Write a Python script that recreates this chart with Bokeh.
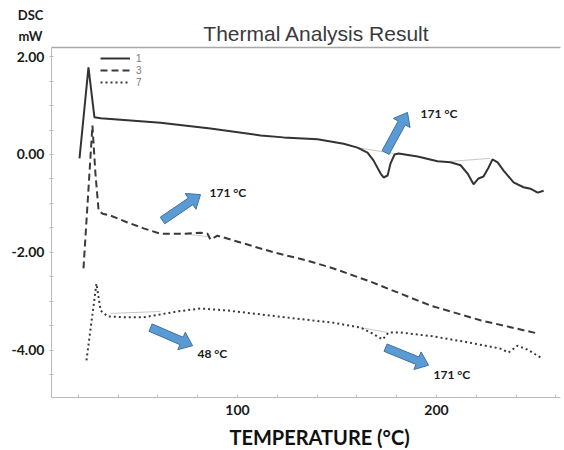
import math
from bokeh.plotting import figure
from bokeh.models import Range1d, LinearAxis, FixedTicker, Label, Legend
from bokeh.embed import file_html
from bokeh.resources import INLINE

# --- DSC curves (temperature in °C, heat flow in mW) ---
run1_t = [20.6, 25.1, 28.1, 31.2, 61.3, 86.4, 111.6, 123.1, 140.2, 153.3, 160.3,
          165.3, 168.3, 171.9, 173.4, 175.4, 176.9, 178.9, 180.9, 190.5, 200.5,
          207.0, 212.1, 215.6, 218.6, 221.1, 223.6, 226.1, 228.1, 230.7, 233.7,
          238.7, 243.7, 247.2, 250.8, 253.8]
run1_mw = [-0.08, 1.78, 0.76, 0.74, 0.65, 0.53, 0.39, 0.35, 0.31, 0.22, 0.14,
           0.04, -0.12, -0.39, -0.47, -0.43, -0.18, 0.0, 0.02, -0.04, -0.14,
           -0.16, -0.22, -0.39, -0.61, -0.49, -0.45, -0.27, -0.10, -0.16, -0.33,
           -0.57, -0.67, -0.70, -0.78, -0.74]

run3_t = [22.6, 27.1, 28.6, 30.2, 32.2, 36.2, 44.7, 52.8, 61.3, 72.9, 81.4, 84.9,
          86.4, 89.9, 101.5, 118.1, 135.2, 148.2, 166.8, 197.0, 222.1, 250.8]
run3_mw = [-2.33, 0.59, -0.39, -1.15, -1.21, -1.25, -1.39, -1.51, -1.62, -1.62,
           -1.60, -1.62, -1.74, -1.66, -1.80, -2.00, -2.17, -2.33, -2.60, -3.09,
           -3.39, -3.66]

run7_t = [24.1, 29.1, 31.2, 34.7, 44.7, 52.8, 61.3, 69.8, 81.4, 95.0, 111.6,
          128.1, 148.2, 161.8, 167.8, 172.9, 175.9, 181.9, 198.5, 215.6, 232.2,
          236.2, 240.7, 245.7, 252.3]
run7_mw = [-4.21, -2.64, -3.19, -3.31, -3.33, -3.33, -3.27, -3.21, -3.15, -3.19,
           -3.27, -3.35, -3.44, -3.54, -3.66, -3.78, -3.64, -3.64, -3.72, -3.84,
           -3.97, -4.05, -3.91, -3.99, -4.15]

# integration baselines under the peaks: (t0, mw0, t1, mw1)
baselines = [
    (160.3, 0.14, 178.4, 0.02),
    (207.0, -0.14, 227.1, -0.08),
    (72.9, -1.62, 84.9, -1.68),
    (36.2, -3.25, 61.3, -3.21),
    (161.8, -3.54, 175.4, -3.64),
]

# peak annotations: arrow tail, arrow tip, label text and label anchor
arrow_tail_t = [174.4, 62.3, 56.3, 174.4]
arrow_tail_mw = [0.04, -1.35, -3.54, -3.95]
arrow_tip_t = [185.4, 81.4, 77.4, 196.0]
arrow_tip_mw = [0.86, -0.82, -3.91, -4.31]
peak_labels = ["171 °C", "171 °C", "48 °C", "171 °C"]
peak_label_t = [192.0, 85.9, 79.9, 198.5]
peak_label_mw = [0.84, -0.78, -4.07, -4.50]

x_ticks = list(range(20, 261, 20))
x_tick_labels = {100: "100", 200: "200"}
y_ticks = [v * 0.5 for v in range(-9, 5)]
y_tick_labels = {2.0: "2.00", 0.0: "0.00", -2.0: "-2.00", -4.0: "-4.00"}

# axis box (data limits of the drawn axes)
AX0, AX1 = 6.5, 262.3
AY0, AY1 = -4.969, 2.188
# whole visible data window, so captions around the box stay in view
X0, X1 = -19.1, 264.3
Y0, Y1 = -6.053, 3.149
W, H = 564, 450

p = figure(width=W, height=H, output_backend="svg", toolbar_location=None,
           x_range=Range1d(X0, X1), y_range=Range1d(Y0, Y1),
           min_border_left=0, min_border_right=0, min_border_top=0,
           min_border_bottom=0, x_axis_type=None, y_axis_type=None)
p.background_fill_color = "white"
p.border_fill_color = "white"
p.outline_line_color = None
p.xgrid.visible = False
p.ygrid.visible = False

# pixels per data unit, used to shape the block arrows
sx = W / (X1 - X0)
sy = H / (Y1 - Y0)

label_font = "Lato"

xaxis = LinearAxis(ticker=FixedTicker(ticks=x_ticks), bounds=(AX0, AX1),
                   fixed_location=AY0,
                   major_label_overrides={t: x_tick_labels.get(t, "") for t in x_ticks})
xaxis.axis_line_color = "#bbbbbb"
xaxis.major_tick_line_color = "#bbbbbb"
xaxis.major_tick_in = 3
xaxis.major_tick_out = 0
xaxis.minor_tick_line_color = None
xaxis.major_label_text_font = label_font
xaxis.major_label_text_font_style = "bold"
xaxis.major_label_text_font_size = "14px"
xaxis.major_label_text_color = "#1a1a1a"
xaxis.major_label_standoff = 8
p.add_layout(xaxis, "below")

yaxis = LinearAxis(ticker=FixedTicker(ticks=y_ticks), bounds=(AY0, AY1),
                   fixed_location=AX0,
                   major_label_overrides={t: y_tick_labels.get(t, "") for t in y_ticks})
yaxis.axis_line_color = "#bbbbbb"
yaxis.major_tick_line_color = "#bbbbbb"
yaxis.major_tick_in = 2
yaxis.major_tick_out = 2
yaxis.minor_tick_line_color = None
yaxis.major_label_text_font = label_font
yaxis.major_label_text_font_style = "bold"
yaxis.major_label_text_font_size = "14px"
yaxis.major_label_text_color = "#1a1a1a"
yaxis.major_label_standoff = 5
p.add_layout(yaxis, "left")

# top edge of the axis box
p.segment(x0=AX0, y0=AY1, x1=AX1, y1=AY1, line_color="#a8a8a8", line_width=1.5)

# baselines
for t0, m0, t1, m1 in baselines:
    p.line([t0, t1], [m0, m1], line_color="#c8c8c8", line_width=1)

# curves
r1 = p.line(run1_t, run1_mw, line_color="#333333", line_width=2)
r3 = p.line(run3_t, run3_mw, line_color="#3a3a3a", line_width=2, line_dash="7 4")
r7 = p.line(run7_t, run7_mw, line_color="#3a3a3a", line_width=2, line_dash="2 3")

legend = Legend(items=[("1", [r1]), ("3", [r3]), ("7", [r7])],
                location=(100, 362), orientation="vertical")
legend.glyph_width = 30
legend.glyph_height = 12
legend.label_height = 12
legend.spacing = 0
legend.padding = 0
legend.margin = 0
legend.label_standoff = 6
legend.border_line_color = None
legend.background_fill_alpha = 0
legend.label_text_font = "Liberation Sans"
legend.label_text_font_size = "10px"
legend.label_text_color = "#7a7a7a"
legend.label_text_line_height = 1.0
p.add_layout(legend, "center")

# block arrows pointing at the peaks
SHAFT, HEAD_W, HEAD_L = 8.0, 19.0, 12.0
for ta, ma, tb, mb in zip(arrow_tail_t, arrow_tail_mw, arrow_tip_t, arrow_tip_mw):
    x0, y0, x1, y1 = ta * sx, ma * sy, tb * sx, mb * sy
    dx, dy = x1 - x0, y1 - y0
    L = math.hypot(dx, dy)
    ux, uy = dx / L, dy / L
    nx, ny = -uy, ux
    neck_x, neck_y = x1 - ux * HEAD_L, y1 - uy * HEAD_L
    pts = [
        (x0 + nx * SHAFT / 2, y0 + ny * SHAFT / 2),
        (neck_x + nx * SHAFT / 2, neck_y + ny * SHAFT / 2),
        (neck_x + nx * HEAD_W / 2, neck_y + ny * HEAD_W / 2),
        (x1, y1),
        (neck_x - nx * HEAD_W / 2, neck_y - ny * HEAD_W / 2),
        (neck_x - nx * SHAFT / 2, neck_y - ny * SHAFT / 2),
        (x0 - nx * SHAFT / 2, y0 - ny * SHAFT / 2),
    ]
    p.patch([q[0] / sx for q in pts], [q[1] / sy for q in pts],
            fill_color="#5b9bd5", line_color="#41719c", line_width=1)

for txt, t, m in zip(peak_labels, peak_label_t, peak_label_mw):
    p.add_layout(Label(x=t, y=m, text=txt, text_font=label_font,
                       text_font_style="bold", text_font_size="12px",
                       text_color="#1a1a1a", text_align="left",
                       text_baseline="middle"))

# title, unit captions and the temperature axis title
p.add_layout(Label(x=139.7, y=2.47, text="Thermal Analysis Result",
                   text_font="Liberation Sans", text_font_size="21px",
                   text_color="#3a3a3a", text_align="center",
                   text_baseline="middle"))
p.add_layout(Label(x=-4.0, y=2.85, text="DSC", text_font=label_font,
                   text_font_style="bold", text_font_size="13px",
                   text_color="#1a1a1a", text_align="center",
                   text_baseline="middle"))
p.add_layout(Label(x=-4.0, y=2.43, text="mW", text_font=label_font,
                   text_font_style="bold", text_font_size="13px",
                   text_color="#1a1a1a", text_align="center",
                   text_baseline="middle"))
p.add_layout(Label(x=141.2, y=-5.787, text="TEMPERATURE (°C)", text_font=label_font,
                   text_font_style="bold", text_font_size="20px",
                   text_color="#111111", text_align="center",
                   text_baseline="middle"))

open("out.html", "w").write(file_html(p, INLINE))
